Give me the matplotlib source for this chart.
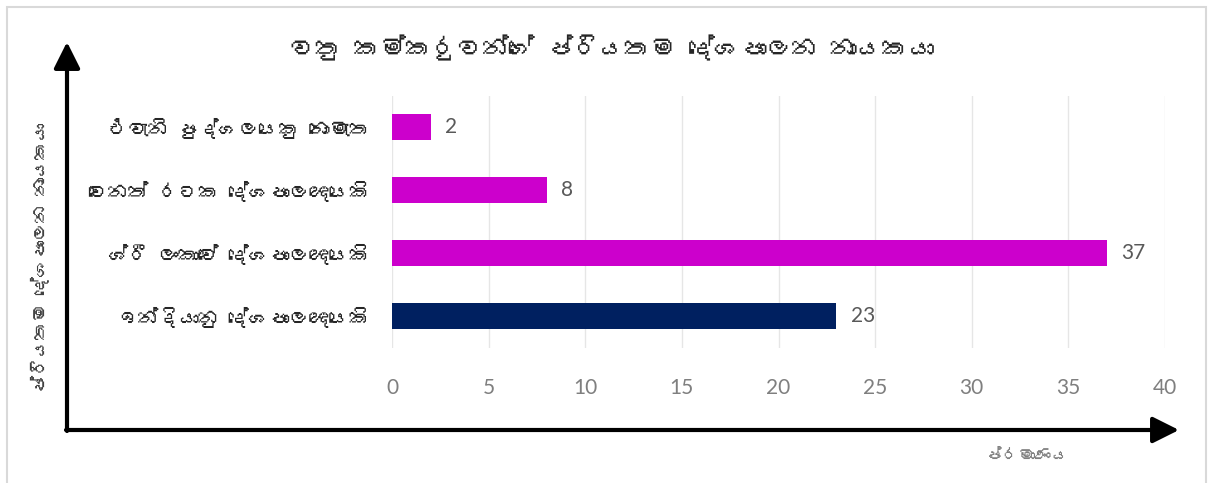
import matplotlib
matplotlib.use("Agg")
import matplotlib.pyplot as plt
from matplotlib import font_manager
from matplotlib.patches import Rectangle, FancyArrowPatch

# ---------------- data ----------------
categories = ["ඉන්දියානු දේශපාලඥයෙකි",
              "ශ්‍රී ලංකාවේ දේශපාලඥයෙකි",
              "වෙනත් රටක දේශපාලඥයෙකි",
              "එවැනි පුද්ගලයෙකු නොමැත"]
values = [23, 37, 8, 2]
bar_colors = ["#002060", "#CC00CC", "#CC00CC", "#CC00CC"]
xticks = [0, 5, 10, 15, 20, 25, 30, 35, 40]
title = "වතු කම්කරුවන්ගේ ප්‍රියතම දේශපාලන නායකයා"
ylabel = "ප්‍රියතම දේශපාලන නායකයා"
xlabel = "ප්‍රමාණය"


def disp(s):
    # matplotlib does no complex shaping; drop the invisible joiner so it
    # does not render as a missing-glyph box
    return s.replace("\u200d", "")


# ---------------- fonts ----------------
sinhala_fams = []
try:
    from fontTools.ttLib import TTFont
    seen = set()
    for f in font_manager.fontManager.ttflist:
        if f.name in seen:
            continue
        try:
            tt = TTFont(f.fname, fontNumber=0, lazy=True)
            cmap = tt.getBestCmap() or {}
            if 0x0DB4 in cmap and 0x0D9A in cmap:
                sinhala_fams.append(f.name)
                seen.add(f.name)
        except Exception:
            pass
except Exception:
    pass
installed = {f.name for f in font_manager.fontManager.ttflist}
num_font = "Lato" if "Lato" in installed else "DejaVu Sans"
text_fams = sinhala_fams[:1] + ["DejaVu Sans"]
plt.rcParams["font.family"] = text_fams

W, H = 1208, 483
fig = plt.figure(figsize=(W / 100, H / 100), dpi=100)


def fx(px):
    return px / W


def fy(py):
    return 1 - py / H


ax = fig.add_axes([fx(392), fy(347.5), fx(1165) - fx(392), fy(95.5) - fy(347.5)])

ypos = list(range(len(categories)))
ax.barh(ypos, values, height=0.4, color=bar_colors, zorder=3)
for y, v in zip(ypos, values):
    ax.text(v + 0.75, y, str(v), va="center", ha="left",
            fontsize=15, color="#595959", family=[num_font, "DejaVu Sans"])

ax.set_xlim(0, 40)
ax.set_ylim(-0.5, len(categories) - 0.5)
ax.set_xticks(xticks)
ax.set_xticklabels([str(t) for t in xticks], family=[num_font, "DejaVu Sans"],
                   fontsize=15, color="#7f7f7f")
ax.set_yticks(ypos)
ax.set_yticklabels([disp(c) for c in categories], fontsize=14.5, color="#262626")
ax.tick_params(axis="both", length=0)
ax.tick_params(axis="x", pad=22)
ax.tick_params(axis="y", pad=16)
ax.grid(axis="x", color="#e6e6e6", linewidth=1, zorder=0)
ax.grid(axis="y", visible=False)
for s in ax.spines.values():
    s.set_visible(False)

# frame around figure
fig.patches.append(Rectangle((fx(7), fy(490)), fx(1206) - fx(7), fy(7) - fy(490),
                             transform=fig.transFigure, fill=False,
                             edgecolor="#d9d9d9", linewidth=1.5))

# arrows
arrow_kw = dict(transform=fig.transFigure, arrowstyle="-|>,head_length=1.0,head_width=0.5",
                mutation_scale=16, linewidth=3, color="black", shrinkA=0, shrinkB=0)
fig.patches.append(FancyArrowPatch((fx(67), fy(431)), (fx(67), fy(42)), **arrow_kw))
fig.patches.append(FancyArrowPatch((fx(66), fy(430)), (fx(1179), fy(430)), **arrow_kw))

fig.text(fx(612), fy(48), disp(title), ha="center", va="center", fontsize=18.5, color="#262626")
fig.text(fx(40), fy(258), disp(ylabel), ha="center", va="center", rotation=90,
         fontsize=13, color="#404040")
fig.text(fx(1027), fy(457), disp(xlabel), ha="center", va="center", fontsize=12, color="#7f7f7f")

fig.savefig("out.png", dpi=100, facecolor="white")
